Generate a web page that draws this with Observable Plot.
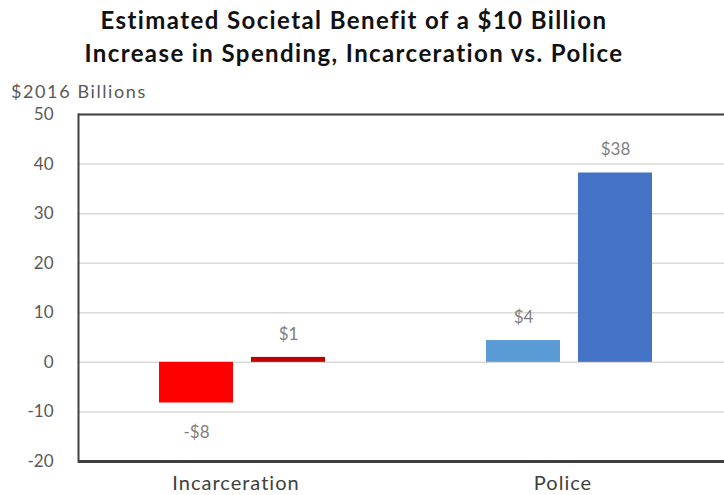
<!DOCTYPE html>
<html>
<head>
<meta charset="utf-8">
<script src="https://cdn.jsdelivr.net/npm/d3@7"></script>
<script src="https://cdn.jsdelivr.net/npm/@observablehq/plot@0.6"></script>
<style>
  body { margin: 0; background: #fff; font-family: Lato, "Open Sans", sans-serif; }
  #wrap { width: 724px; height: 495px; position: relative; overflow: hidden; }
  .title { position: absolute; left: 0; width: 708px; text-align: center; font-weight: bold; font-size: 24px; letter-spacing: 1.4px; color: #111; line-height: 33px; top: 3px; }
  .ylabel { position: absolute; left: 11px; top: 80px; font-size: 18px; letter-spacing: 1.6px; color: #595959; }
  #chart { position: absolute; left: 0; top: 100px; }
  #chart g[aria-label="fx-axis tick label"] { letter-spacing: 1px; }
</style>
</head>
<body>
<div id="wrap">
  <div class="title">Estimated Societal Benefit of a $10 Billion<br>Increase in Spending, Incarceration vs. Police</div>
  <div class="ylabel">$2016 Billions</div>
  <div id="chart"></div>
</div>
<script>
const categories = ["Incarceration", "Incarceration", "Police", "Police"];
const series = ["a", "b", "a", "b"];
const values = [-8.2, 1.0, 4.4, 38.2];
const labels = ["-$8", "$1", "$4", "$38"];
const colors = ["#FF0000", "#C00000", "#5B9BD5", "#4472C4"];
const yTicks = [-20, -10, 0, 10, 20, 30, 40, 50];

const data = values.map((v, i) => ({cat: categories[i], s: series[i], v, label: labels[i], color: colors[i]}));

const chart = Plot.plot({
  width: 724,
  height: 395,
  marginLeft: 78,
  marginRight: 0,
  marginTop: 14,
  marginBottom: 34,
  style: {fontFamily: "Lato, 'Open Sans', sans-serif", background: "#fff"},
  fx: {domain: ["Incarceration", "Police"], range: [78, 732], padding: 0, label: null},
  x: {domain: ["a", "b"], paddingInner: 0.2, paddingOuter: 0.86, axis: null},
  y: {domain: [-20, 50], ticks: yTicks, label: null},
  marks: [
    Plot.ruleY(yTicks, {stroke: "#d9d9d9", strokeWidth: 1.5}),
    Plot.barY(data, {fx: "cat", x: "s", y: "v", fill: "color"}),
    Plot.text(data.filter(d => d.v >= 0), {fx: "cat", x: "s", y: "v", text: "label", dy: -23, fill: "#7f7f7f", fontSize: 17}),
    Plot.text(data.filter(d => d.v < 0), {fx: "cat", x: "s", y: "v", text: "label", dy: 30, fill: "#7f7f7f", fontSize: 17}),
    Plot.ruleY([50], {stroke: "#404040", strokeWidth: 2}),
    Plot.ruleY([-20], {stroke: "#404040", strokeWidth: 3}),
    Plot.frame({anchor: "left", facetAnchor: "left", stroke: "#404040", strokeWidth: 2}),
    Plot.axisY({ticks: yTicks, tickSize: 0, tickPadding: 25, tickFormat: d => String(d), fontSize: 17, fill: "#595959", facetAnchor: "left", label: null}),
    Plot.axisFx({anchor: "bottom", tickSize: 0, tickPadding: 14, fontSize: 20, fill: "#404040", label: null, dx: -6})
  ]
});
document.getElementById("chart").appendChild(chart);
</script>
</body>
</html>
